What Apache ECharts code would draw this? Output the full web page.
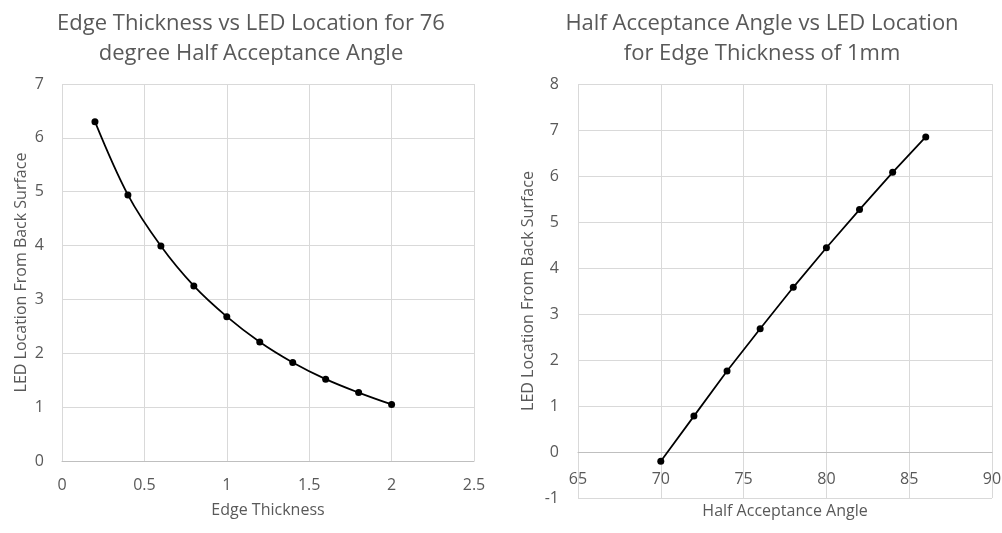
<!DOCTYPE html>
<html>
<head>
<meta charset="utf-8">
<style>
  html, body { margin: 0; padding: 0; background: #fff; }
  #chart { width: 1002px; height: 533px; }
</style>
<script src="https://cdn.jsdelivr.net/npm/echarts@6/dist/echarts.min.js"></script>
</head>
<body>
<div id="chart"></div>
<script>
// Edge thickness (mm) vs LED location, 76 degree half acceptance angle
const edgeThickness = [0.2, 0.4, 0.6, 0.8, 1.0, 1.2, 1.4, 1.6, 1.8, 2.0];
const ledLocationByThickness = [6.30, 4.94, 3.99, 3.25, 2.68, 2.21, 1.83, 1.52, 1.27, 1.05];

// Half acceptance angle (deg) vs LED location, 1mm edge thickness
const halfAngle = [70, 72, 74, 76, 78, 80, 82, 84, 86];
const ledLocationByAngle = [-0.20, 0.78, 1.76, 2.68, 3.58, 4.44, 5.27, 6.08, 6.85];

const titleLeft = 'Edge Thickness vs LED Location for 76\ndegree Half Acceptance Angle';
const titleRight = 'Half Acceptance Angle vs LED Location\nfor Edge Thickness of 1mm';
const yName = 'LED Location From Back Surface';
const xNameLeft = 'Edge Thickness';
const xNameRight = 'Half Acceptance Angle';

const FONT = '"Open Sans", "Noto Sans", sans-serif';
const TXT = '#595959';
const GRID = '#d9d9d9';

function pairs(xs, ys) { return xs.map((x, i) => [x, ys[i]]); }

const labelStyle = { color: TXT, fontFamily: FONT, fontSize: 16 };
const nameStyle = { color: TXT, fontFamily: FONT, fontSize: 16 };
const titleStyle = { color: TXT, fontFamily: FONT, fontSize: 22, fontWeight: 'normal', lineHeight: 30 };

// right panel: y range -1..8 over 414px, so y = 0 sits 46px above the bottom edge
const rightGridHeight = 414;
const rightYMin = -1, rightYMax = 8;
const zeroOffset = -rightGridHeight * (0 - rightYMin) / (rightYMax - rightYMin);

const chart = echarts.init(document.getElementById('chart'));
chart.setOption({
  animation: false,
  backgroundColor: '#fff',
  title: [
    { text: titleLeft, left: 246, top: 4, textAlign: 'center', textStyle: titleStyle },
    { text: titleRight, left: 757, top: 4, textAlign: 'center', textStyle: titleStyle }
  ],
  grid: [
    { left: 62, top: 84, width: 412, height: 377, containLabel: false, outerBoundsMode: 'none' },
    { left: 578, top: 84, width: 414, height: rightGridHeight, containLabel: false, outerBoundsMode: 'none' }
  ],
  xAxis: [
    { type: 'value', gridIndex: 0, min: 0, max: 2.5, interval: 0.5,
      name: xNameLeft, nameLocation: 'middle', nameGap: 41, nameTextStyle: nameStyle,
      axisLine: { show: true, lineStyle: { color: '#bfbfbf' } }, axisTick: { show: false },
      axisLabel: Object.assign({ margin: 16 }, labelStyle),
      splitLine: { show: true, lineStyle: { color: GRID } } },
    { type: 'value', gridIndex: 1, min: 65, max: 90, interval: 5,
      offset: zeroOffset,
      name: xNameRight, nameLocation: 'middle', nameGap: 51, nameTextStyle: nameStyle,
      axisLine: { show: true, onZero: false, lineStyle: { color: '#bfbfbf' } }, axisTick: { show: false },
      axisLabel: Object.assign({ margin: 19, showMaxLabel: true }, labelStyle),
      splitLine: { show: true, lineStyle: { color: GRID } } }
  ],
  yAxis: [
    { type: 'value', gridIndex: 0, min: 0, max: 7, interval: 1,
      name: yName, nameLocation: 'middle', nameGap: 33, nameTextStyle: nameStyle,
      axisLine: { show: false }, axisTick: { show: false },
      axisLabel: Object.assign({ margin: 18 }, labelStyle),
      splitLine: { show: true, lineStyle: { color: GRID } } },
    { type: 'value', gridIndex: 1, min: rightYMin, max: rightYMax, interval: 1,
      name: yName, nameLocation: 'middle', nameGap: 42, nameTextStyle: nameStyle,
      axisLine: { show: false }, axisTick: { show: false },
      axisLabel: Object.assign({ margin: 19 }, labelStyle),
      splitLine: { show: true, lineStyle: { color: GRID } } }
  ],
  series: [
    { type: 'line', xAxisIndex: 0, yAxisIndex: 0, data: pairs(edgeThickness, ledLocationByThickness),
      smooth: 0.35, symbol: 'circle', symbolSize: 7,
      lineStyle: { color: '#000', width: 1.75 }, itemStyle: { color: '#000' } },
    { type: 'line', xAxisIndex: 1, yAxisIndex: 1, data: pairs(halfAngle, ledLocationByAngle),
      smooth: false, symbol: 'circle', symbolSize: 7,
      lineStyle: { color: '#000', width: 1.75 }, itemStyle: { color: '#000' } }
  ]
});
</script>
</body>
</html>
